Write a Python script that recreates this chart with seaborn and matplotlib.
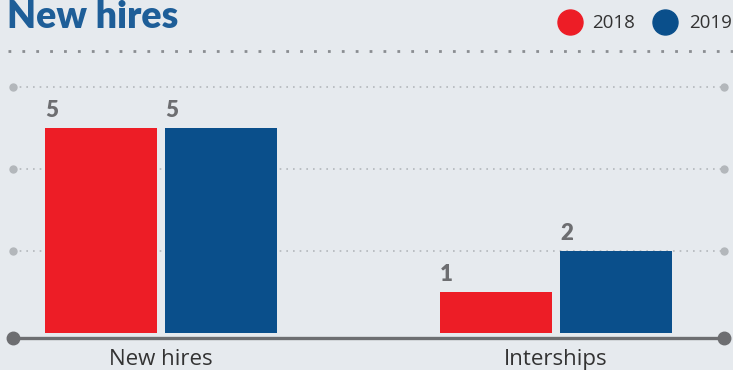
import matplotlib
matplotlib.use("Agg")
import matplotlib.pyplot as plt
import seaborn as sns
import pandas as pd
from matplotlib.lines import Line2D

categories = ["New hires", "Interships"]
years = ["2018", "2019"]
values_2018 = [5, 1]
values_2019 = [5, 2]
grid_ticks = [2, 4, 6]
title = "New hires"

colors = {"2018": "#ED1D26", "2019": "#0A4F8B"}
bg = "#E6EAEE"

df = pd.DataFrame({
    "category": categories * 2,
    "year": [years[0]] * len(categories) + [years[1]] * len(categories),
    "value": values_2018 + values_2019,
})

sns.set_theme(style="white")
plt.rcParams["font.family"] = ["Open Sans", "DejaVu Sans"]

W, H = 733, 370
fig = plt.figure(figsize=(W / 100, H / 100), dpi=100, facecolor=bg)
ax = fig.add_axes([13 / W, (H - 338) / H, (724 - 13) / W, (338 - 87) / H])
ax.set_facecolor(bg)

sns.barplot(data=df, x="category", y="value", hue="year", order=categories,
            hue_order=years, palette=colors, width=0.61, gap=0.07,
            ax=ax, legend=False, saturation=1, linewidth=0)

ax.set_xlim(-0.375, 1.425)
ax.set_ylim(-0.12, 6)
for s in ax.spines.values():
    s.set_visible(False)
ax.set_yticks([])
ax.set_xlabel("")
ax.set_ylabel("")
ax.tick_params(axis="x", length=0, pad=8, labelsize=16, labelcolor="#333333")

# grid lines (dotted, with end dots)
x0, x1 = ax.get_xlim()
for g in grid_ticks:
    ax.plot([x0, x1], [g, g], linestyle=(0, (1, 3)), color="#B3B7BB",
            linewidth=1.2, clip_on=False, zorder=0)
    ax.plot([x0, x1], [g, g], linestyle="none", marker="o", markersize=5,
            color="#B3B7BB", clip_on=False, zorder=0)

# baseline
ax.plot([x0, x1], [-0.12, -0.12], color="#6D6E71", linewidth=2.4,
        clip_on=False, zorder=3, solid_capstyle="butt")
ax.plot([x0, x1], [-0.12, -0.12], linestyle="none", marker="o", markersize=9,
        color="#6D6E71", clip_on=False, zorder=3)

# value labels
for p in ax.patches:
    h = p.get_height()
    if h <= 0:
        continue
    ax.annotate(f"{h:g}", (p.get_x(), h), xytext=(0, 5), textcoords="offset points",
                ha="left", va="bottom", fontsize=16, fontweight="heavy",
                color="#6D6E71", family=["Lato", "DejaVu Sans"])

# title
fig.text(7 / W, 1 - 17 / H, title, fontsize=27, fontweight="heavy",
         color="#1E5E98", ha="left", va="center", family=["Lato", "DejaVu Sans"])

# dotted separator under title
fig.add_artist(Line2D([8 / W, 1], [1 - 51 / H, 1 - 51 / H], transform=fig.transFigure,
                      linestyle=(0, (1, 4)), color="#8A8D91", linewidth=2))

# legend
for cx, tx, yr in [(570, 592, "2018"), (665, 689, "2019")]:
    fig.add_artist(Line2D([cx / W], [1 - 22 / H], transform=fig.transFigure,
                          marker="o", markersize=18, color=colors[yr], linestyle="none"))
    fig.text(tx / W, 1 - 23 / H, yr, fontsize=13.5, color="#333333",
             ha="left", va="center")

fig.savefig("out.png", dpi=100, facecolor=bg)
